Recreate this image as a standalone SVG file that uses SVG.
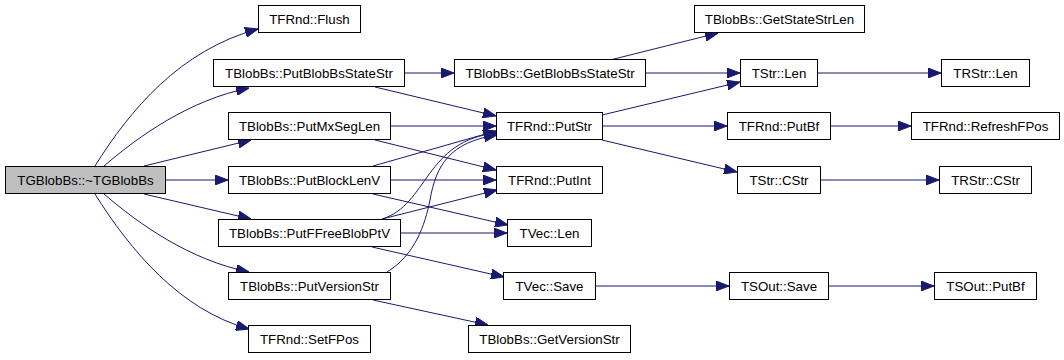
<svg xmlns="http://www.w3.org/2000/svg" width="1064" height="360" viewBox="0 0 1064 360">
<style>
.n rect{fill:#fff;stroke:#000;stroke-width:1}
.root rect{fill:#bfbfbf}
.n text{font-family:"Liberation Sans",Arial,sans-serif;font-size:13.3px;text-anchor:middle;fill:#000}
.e path{fill:none;stroke:#191970;stroke-width:1;marker-end:url(#a)}
</style>
<defs>
<marker id="a" viewBox="0 0 13 10" refX="13" refY="5" markerWidth="13" markerHeight="10" markerUnits="userSpaceOnUse" orient="auto">
<path d="M0,0 L13,5 L0,10 z" fill="#191970" stroke="#191970" stroke-width="1"/>
</marker>
</defs>
<rect width="1064" height="360" fill="#fff"/>
<g class="e" id="edges">
<path d="M95,166 C130,110 180,50 258,29"/>
<path d="M104,166 C140,135 190,100 249,88"/>
<path d="M144,166 L251,140"/>
<path d="M165,180 L228,180"/>
<path d="M144,194 L251,219"/>
<path d="M104,194 C140,225 190,260 249,272"/>
<path d="M95,194 C130,250 180,310 249,329"/>
<path d="M404,73 L454,73"/>
<path d="M375,87 L496,116"/>
<path d="M390,126 L496,126"/>
<path d="M375,140 L496,170"/>
<path d="M373,166 L496,131"/>
<path d="M390,180 L496,180"/>
<path d="M373,194 L508,225"/>
<path d="M382,219 C428,205 425,140 497,133"/>
<path d="M382,219 L497,190"/>
<path d="M400,233 L507,233"/>
<path d="M372,247 L504,277"/>
<path d="M387,272 C415,255 425,225 430,200 C436,165 450,142 497,135"/>
<path d="M373,300 L488,325"/>
<path d="M610,60 L718,33"/>
<path d="M645,73 L740,73"/>
<path d="M602,115 L740,82"/>
<path d="M602,126 L727,126"/>
<path d="M602,140 L737,172"/>
<path d="M817,73 L941,73"/>
<path d="M830,126 L911,126"/>
<path d="M820,180 L939,180"/>
<path d="M595,286 L729,286"/>
<path d="M828,286 L934,286"/>
</g>
<g class="n root" id="n_TGBlobBs"><rect x="5.5" y="166.5" width="160" height="27"/><text x="85.5" y="184.5">TGBlobBs::~TGBlobBs</text></g>
<g class="n" id="n_Flush"><rect x="258.5" y="5.5" width="102" height="27"/><text x="309.5" y="23.5">TFRnd::Flush</text></g>
<g class="n" id="n_PutBlobBsStateStr"><rect x="213.5" y="59.5" width="191" height="27"/><text x="309" y="77.5">TBlobBs::PutBlobBsStateStr</text></g>
<g class="n" id="n_PutMxSegLen"><rect x="228.5" y="112.5" width="162" height="27"/><text x="309.5" y="130.5">TBlobBs::PutMxSegLen</text></g>
<g class="n" id="n_PutBlockLenV"><rect x="228.5" y="166.5" width="162" height="27"/><text x="309.5" y="184.5">TBlobBs::PutBlockLenV</text></g>
<g class="n" id="n_PutFFreeBlobPtV"><rect x="218.5" y="219.5" width="182" height="27"/><text x="309.5" y="237.5">TBlobBs::PutFFreeBlobPtV</text></g>
<g class="n" id="n_PutVersionStr"><rect x="228.5" y="272.5" width="162" height="27"/><text x="309.5" y="290.5">TBlobBs::PutVersionStr</text></g>
<g class="n" id="n_SetFPos"><rect x="248.5" y="325.5" width="122" height="27"/><text x="309.5" y="343.5">TFRnd::SetFPos</text></g>
<g class="n" id="n_GetBlobBsStateStr"><rect x="454.5" y="59.5" width="191" height="27"/><text x="550" y="77.5">TBlobBs::GetBlobBsStateStr</text></g>
<g class="n" id="n_PutStr"><rect x="496.5" y="112.5" width="106" height="27"/><text x="549.5" y="130.5">TFRnd::PutStr</text></g>
<g class="n" id="n_PutInt"><rect x="496.5" y="166.5" width="106" height="27"/><text x="549.5" y="184.5">TFRnd::PutInt</text></g>
<g class="n" id="n_TVecLen"><rect x="507.5" y="219.5" width="84" height="27"/><text x="549.5" y="237.5">TVec::Len</text></g>
<g class="n" id="n_TVecSave"><rect x="503.5" y="272.5" width="92" height="27"/><text x="549.5" y="290.5">TVec::Save</text></g>
<g class="n" id="n_GetVersionStr"><rect x="468.5" y="325.5" width="162" height="27"/><text x="549.5" y="343.5">TBlobBs::GetVersionStr</text></g>
<g class="n" id="n_GetStateStrLen"><rect x="694.5" y="5.5" width="170" height="27"/><text x="779.5" y="23.5">TBlobBs::GetStateStrLen</text></g>
<g class="n" id="n_TStrLen"><rect x="740.5" y="59.5" width="77" height="27"/><text x="779" y="77.5">TStr::Len</text></g>
<g class="n" id="n_TRStrLen"><rect x="941.5" y="59.5" width="88" height="27"/><text x="985.5" y="77.5">TRStr::Len</text></g>
<g class="n" id="n_PutBf"><rect x="727.5" y="112.5" width="103" height="27"/><text x="779" y="130.5">TFRnd::PutBf</text></g>
<g class="n" id="n_RefreshFPos"><rect x="911.5" y="112.5" width="148" height="27"/><text x="985.5" y="130.5">TFRnd::RefreshFPos</text></g>
<g class="n" id="n_TStrCStr"><rect x="737.5" y="166.5" width="83" height="27"/><text x="779" y="184.5">TStr::CStr</text></g>
<g class="n" id="n_TRStrCStr"><rect x="939.5" y="166.5" width="92" height="27"/><text x="985.5" y="184.5">TRStr::CStr</text></g>
<g class="n" id="n_TSOutSave"><rect x="729.5" y="272.5" width="99" height="27"/><text x="779" y="290.5">TSOut::Save</text></g>
<g class="n" id="n_TSOutPutBf"><rect x="934.5" y="272.5" width="102" height="27"/><text x="985.5" y="290.5">TSOut::PutBf</text></g>
</svg>
